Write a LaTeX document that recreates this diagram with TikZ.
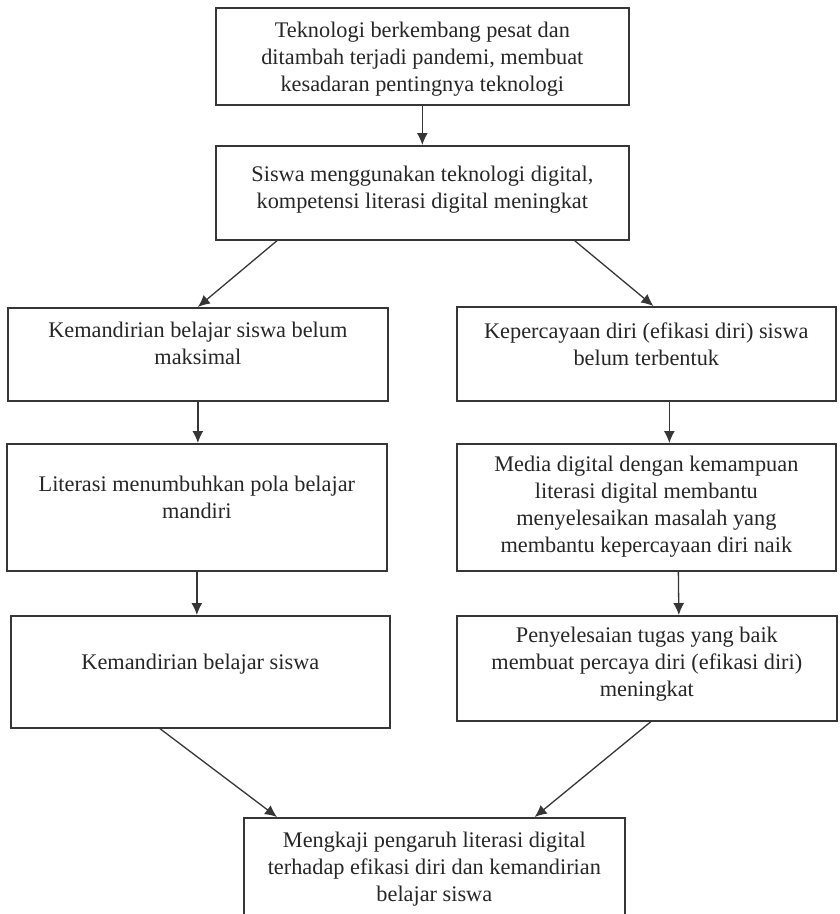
\documentclass[tikz,border=0pt]{standalone}
\usepackage{fontspec}
\setmainfont{Liberation Serif}
\usepackage{tikz}
\usetikzlibrary{arrows.meta}

\definecolor{garis}{HTML}{363636}
\definecolor{teks}{HTML}{262626}

% width, height, top gap, text
\newcommand{\isi}[4]{\parbox[c][#2][t]{#1}{\centering\vspace*{#3}\strut #4}}

\tikzset{
  kotak/.style={draw=garis, line width=1.7pt, inner sep=0pt, anchor=north west,
    text=teks, font=\fontsize{22.3}{27}\selectfont},
  panah/.style={draw=garis, line width=1.3pt, -{Latex[length=12pt,width=11pt]}}
}

\begin{document}
\begin{tikzpicture}[x=1pt, y=-1pt]
    \useasboundingbox (0,0) rectangle (839,914);

    \node[kotak] (teknologi) at (215,7)
      {\isi{413pt}{97pt}{11pt}{Teknologi berkembang pesat dan\\ ditambah terjadi pandemi, membuat\\ kesadaran pentingnya teknologi}};
    \node[kotak] (siswa) at (215,145)
      {\isi{413pt}{94pt}{17pt}{Siswa menggunakan teknologi digital,\\ kompetensi literasi digital meningkat}};

    \node[kotak] (mandiriA) at (7,307)
      {\isi{380pt}{93pt}{11pt}{Kemandirian belajar siswa belum\\ maksimal}};
    \node[kotak] (mandiriB) at (6,443)
      {\isi{380pt}{127pt}{29pt}{Literasi menumbuhkan pola belajar\\ mandiri}};
    \node[kotak] (mandiriC) at (10,615)
      {\isi{379pt}{112pt}{35pt}{Kemandirian belajar siswa}};

    \node[kotak] (efikasiA) at (456,306)
      {\isi{379pt}{94pt}{13pt}{Kepercayaan diri (efikasi diri) siswa\\ belum terbentuk}};
    \node[kotak] (efikasiB) at (456,443)
      {\isi{379pt}{127pt}{9pt}{Media digital dengan kemampuan\\ literasi digital membantu\\ menyelesaikan masalah yang\\ membantu kepercayaan diri naik}};
    \node[kotak] (efikasiC) at (456,615)
      {\isi{380pt}{105pt}{8pt}{Penyelesaian tugas yang baik\\ membuat percaya diri (efikasi diri)\\ meningkat}};

    \node[kotak] (kaji) at (243,817)
      {\isi{381pt}{105pt}{11pt}{Mengkaji pengaruh literasi digital\\ terhadap efikasi diri dan kemandirian\\ belajar siswa}};

    \draw[panah] (teknologi.south) -- (siswa.north);
    \draw[panah] ([xshift=62pt]siswa.south west) -- (mandiriA.north);
    \draw[panah] ([xshift=-55pt]siswa.south east) -- ([xshift=7pt]efikasiA.north);

    \draw[panah] (mandiriA.south) -- (mandiriA.south |- mandiriB.north);
    \draw[panah] (mandiriB.south) -- (mandiriB.south |- mandiriC.north);
    \draw[panah] ([xshift=23pt]efikasiA.south) -- ([xshift=23pt]efikasiB.north);
    \draw[panah] ([xshift=32pt]efikasiB.south) -- ([xshift=32pt]efikasiC.north);

    \draw[panah] ([xshift=150pt]mandiriC.south west) -- ([xshift=34pt]kaji.north west);
    \draw[panah] ([xshift=4pt]efikasiC.south) -- ([xshift=-91pt]kaji.north east);
\end{tikzpicture}
\end{document}
